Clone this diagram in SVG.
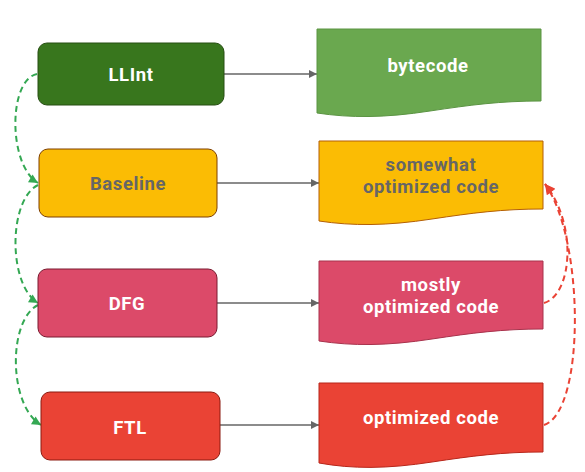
<svg xmlns="http://www.w3.org/2000/svg" width="585" height="472" viewBox="0 0 585 472">
<style>
  .t{font-family:Roboto,"Open Sans","Liberation Sans",sans-serif;font-weight:bold;font-size:18.5px;letter-spacing:0.6px;text-anchor:middle}
  .w{fill:#ffffff}
  .g{fill:#666666}
  .flow{stroke:#666666;stroke-width:1.5;fill:none}
  .grn{stroke:#34a853;stroke-width:2;stroke-dasharray:6 4;fill:none}
  .red{stroke:#ea4335;stroke-width:2;stroke-dasharray:6 4;fill:none}
</style>
<defs>
  <marker id="ag" viewBox="0 0 10 10" refX="10" refY="5" markerWidth="10" markerHeight="8" markerUnits="userSpaceOnUse" orient="auto">
    <path d="M0,0 L10,5 L0,10 z" fill="#666666"/>
  </marker>
  <marker id="agr" viewBox="0 0 10 10" refX="10" refY="5" markerWidth="10" markerHeight="9" markerUnits="userSpaceOnUse" orient="auto">
    <path d="M0,0 L10,5 L0,10 z" fill="#34a853"/>
  </marker>
  <marker id="ar" viewBox="0 0 10 10" refX="10" refY="5" markerWidth="11" markerHeight="10" markerUnits="userSpaceOnUse" orient="auto">
    <path d="M0,0 L10,5 L0,10 z" fill="#ea4335"/>
  </marker>
</defs>
<rect width="585" height="472" fill="#ffffff"/>

<g id="connectors">
  <line class="flow" x1="224" y1="74" x2="317" y2="74" marker-end="url(#ag)"/>
  <line class="flow" x1="217" y1="183" x2="319" y2="183" marker-end="url(#ag)"/>
  <line class="flow" x1="217" y1="303" x2="319" y2="303" marker-end="url(#ag)"/>
  <line class="flow" x1="220" y1="425" x2="319" y2="425" marker-end="url(#ag)"/>
  <path class="grn" d="M37,74 C8,80 8,165 38,183" marker-end="url(#agr)"/>
  <path class="grn" d="M38,185 C8,200 8,285 38,303" marker-end="url(#agr)"/>
  <path class="grn" d="M38,305 C8,320 8,405 41,425" marker-end="url(#agr)"/>
  <path class="red" d="M544,303 C572,295 578,225 545,184" marker-end="url(#ar)"/>
  <path class="red" d="M544,425 C585,412 585,240 545,184" marker-end="url(#ar)"/>
</g>

<g id="llint">
  <rect x="38" y="43" width="186" height="62" rx="9" fill="#38761d" stroke="#274e13" stroke-width="1"/>
  <text class="t w" x="131" y="81">LLInt</text>
</g>
<g id="baseline">
  <rect x="39" y="149" width="178" height="68" rx="9" fill="#fbbc04" stroke="#7f3f00" stroke-width="1"/>
  <text class="t g" x="128" y="190">Baseline</text>
</g>
<g id="dfg">
  <rect x="38" y="269" width="179" height="68" rx="9" fill="#dc4a69" stroke="#7a1a30" stroke-width="1"/>
  <text class="t w" x="127" y="310">DFG</text>
</g>
<g id="ftl">
  <rect x="41" y="392" width="179" height="68" rx="9" fill="#ea4335" stroke="#8b1a10" stroke-width="1"/>
  <text class="t w" x="130" y="434">FTL</text>
</g>

<g id="bytecode">
  <path d="M317,29 H541 V101 C500,101 470,105 430,111 C385,118 350,118 317,113 Z" fill="#6aa84f" stroke="#5b9443" stroke-width="1"/>
  <text class="t w" x="428" y="72">bytecode</text>
</g>
<g id="somewhat">
  <path d="M319,141 H543 V209 C502,209 472,213 432,219 C387,226 352,226 319,221 Z" fill="#fbbc04" stroke="#b45f06" stroke-width="1"/>
  <text class="t g" x="431" y="171">somewhat</text>
  <text class="t g" x="431" y="193">optimized code</text>
</g>
<g id="mostly">
  <path d="M319,261 H543 V329 C502,329 472,333 432,339 C387,346 352,346 319,341 Z" fill="#dc4a69" stroke="#a8324c" stroke-width="1"/>
  <text class="t w" x="431" y="291">mostly</text>
  <text class="t w" x="431" y="313">optimized code</text>
</g>
<g id="optimized">
  <path d="M319,383 H543 V452 C502,452 472,456 432,462 C387,469 352,469 319,463 Z" fill="#ea4335" stroke="#b7261a" stroke-width="1"/>
  <text class="t w" x="431" y="424">optimized code</text>
</g>
</svg>
